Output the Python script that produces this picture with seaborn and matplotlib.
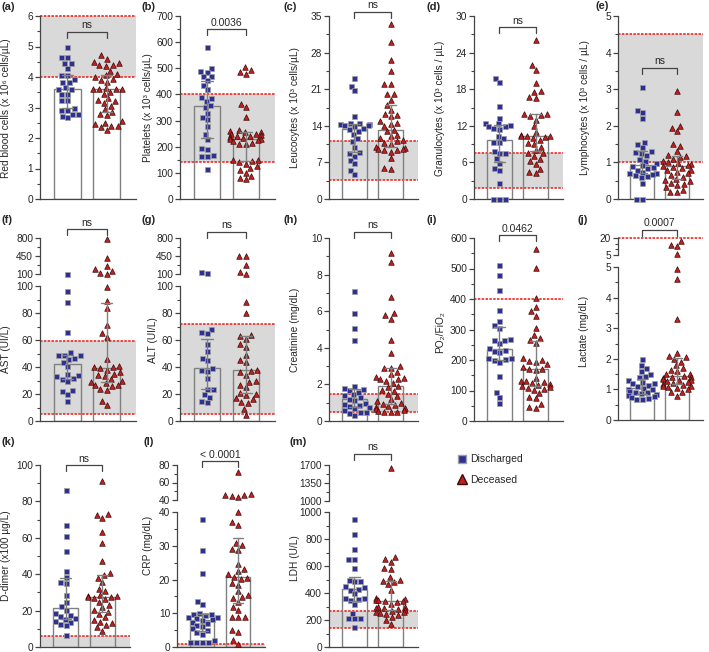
import numpy as np
import pandas as pd
import seaborn as sns
import matplotlib.pyplot as plt
from matplotlib.lines import Line2D
from matplotlib.ticker import FixedLocator
from matplotlib.transforms import blended_transform_factory

sns.set_style("ticks")
plt.rcParams["font.family"] = ["Liberation Sans", "DejaVu Sans"]

groups = ["Discharged", "Deceased"]

# values, one list per group and panel
rbc_dis = [4.97, 4.65, 4.65, 4.45, 4.45, 4.3, 4.05, 4.05, 3.93, 3.82, 3.82, 3.67, 3.6, 3.6, 3.45, 3.45, 3.25, 3.25, 2.98, 2.92, 2.92, 2.8, 2.8, 2.73, 2.68]
rbc_dec = [4.72, 4.6, 4.5, 4.45, 4.4, 4.38, 4.35, 4.2, 4.1, 4.05, 4.0, 3.95, 3.9, 3.85, 3.65, 3.6, 3.6, 3.6, 3.6, 3.5, 3.45, 3.3, 3.25, 3.2, 3.15, 3.05, 2.95, 2.85, 2.8, 2.75, 2.55, 2.5, 2.45, 2.4, 2.4, 2.35, 2.25]
plt_dis = [580, 500, 490, 485, 470, 470, 455, 435, 420, 390, 385, 375, 360, 350, 330, 315, 305, 280, 250, 230, 195, 190, 170, 165, 165, 115]
plt_dec = [505, 495, 485, 478, 365, 350, 312, 265, 262, 258, 255, 250, 248, 245, 242, 240, 236, 232, 230, 228, 225, 220, 215, 212, 210, 150, 148, 145, 140, 135, 125, 118, 110, 100, 88, 80, 75]
leu_dis = [23.2, 21.7, 20.8, 15.8, 14.6, 14.5, 14.4, 14.3, 14.2, 14.1, 13.9, 13.6, 13.3, 13.0, 12.5, 11.7, 11.0, 10.0, 9.0, 8.8, 8.3, 7.5, 6.8, 5.6, 4.8]
leu_dec = [33.5, 30.0, 26.5, 24.5, 22.0, 22.0, 20.0, 20.0, 19.0, 18.0, 17.0, 16.2, 16.0, 15.8, 15.0, 14.6, 14.4, 14.0, 13.2, 13.0, 12.2, 12.0, 11.6, 11.2, 11.0, 10.8, 10.5, 10.0, 9.8, 9.6, 9.5, 9.4, 9.3, 9.0, 7.8, 6.0, 5.8]
gra_dis = [19.8, 19.2, 15.3, 13.3, 12.5, 12.4, 12.2, 12.0, 11.9, 11.6, 11.5, 10.3, 10.0, 9.4, 9.3, 7.8, 7.6, 7.5, 6.7, 5.9, 5.1, 4.7, 2.7, 0, 0, 0]
gra_dec = [26.0, 22.0, 21.2, 19.0, 17.7, 17.5, 16.8, 16.5, 14.0, 13.9, 13.7, 13.6, 13.0, 12.0, 11.0, 10.5, 10.4, 10.3, 10.3, 10.2, 10.0, 9.6, 9.2, 9.0, 8.6, 8.0, 7.6, 7.5, 7.0, 6.6, 6.2, 5.8, 5.0, 4.5, 4.2]
lym_dis = [3.05, 2.42, 2.38, 2.2, 1.57, 1.5, 1.42, 1.3, 1.28, 1.25, 1.2, 1.1, 1.05, 0.98, 0.92, 0.9, 0.88, 0.85, 0.8, 0.75, 0.72, 0.7, 0.68, 0.65, 0.62, 0.6, 0.45, 0, 0]
lym_dec = [2.96, 2.38, 2.0, 1.95, 1.85, 1.5, 1.45, 1.3, 1.2, 1.18, 1.15, 1.1, 1.05, 1.0, 0.98, 0.95, 0.93, 0.9, 0.88, 0.85, 0.8, 0.78, 0.75, 0.7, 0.65, 0.6, 0.55, 0.52, 0.48, 0.45, 0.42, 0.38, 0.32, 0.25, 0.2, 0.18]
ast_dis = [105, 96, 88, 66, 51, 49, 49, 49, 47, 46, 44, 41, 35, 34, 33, 32, 31, 30, 23, 22, 20, 15]
ast_dec = [790, 410, 250, 205, 165, 120, 108, 99, 89, 84, 71, 65, 62, 46, 41, 40, 40, 39, 38, 36, 35, 34, 33, 31, 30, 29, 28, 27, 27, 26, 24, 23, 15, 12]
alt_dis = [130, 120, 68, 66, 65, 57, 52, 47, 45, 39, 38, 37, 32, 24, 24, 20, 18, 15, 14]
alt_dec = [450, 445, 270, 140, 105, 88, 80, 64, 63, 61, 57, 55, 49, 45, 44, 38, 37, 36, 34, 30, 29, 27, 25, 21, 20, 19, 17, 16, 14, 13, 9, 4.5]
cre_dis = [7.1, 5.9, 5.1, 4.4, 1.9, 1.8, 1.75, 1.7, 1.6, 1.45, 1.4, 1.3, 1.2, 1.15, 1.0, 0.95, 0.9, 0.8, 0.75, 0.7, 0.6, 0.5, 0.5, 0.45, 0.35]
cre_dec = [9.2, 8.7, 6.8, 5.9, 5.8, 5.6, 4.4, 3.7, 3.0, 2.9, 2.9, 2.7, 2.55, 2.4, 2.35, 2.3, 2.3, 2.2, 2.1, 1.9, 1.85, 1.7, 1.65, 1.5, 1.35, 1.2, 1.1, 1.0, 0.95, 0.88, 0.8, 0.75, 0.7, 0.65, 0.6, 0.55, 0.5, 0.5, 0.48]
pf_dis = [512, 480, 430, 365, 328, 315, 305, 268, 266, 264, 255, 240, 232, 230, 225, 208, 205, 202, 200, 195, 146, 96, 80, 58]
pf_dec = [565, 501, 403, 375, 360, 345, 304, 282, 271, 266, 255, 205, 200, 198, 195, 186, 178, 172, 170, 168, 140, 132, 130, 128, 124, 120, 118, 116, 113, 108, 106, 102, 91, 80, 74, 55, 47, 42]
lac_dis = [2.0, 1.8, 1.7, 1.6, 1.5, 1.45, 1.4, 1.3, 1.25, 1.2, 1.2, 1.15, 1.1, 1.05, 1.0, 1.0, 0.95, 0.92, 0.9, 0.88, 0.85, 0.82, 0.8, 0.75, 0.72, 0.7, 0.7]
lac_dec = [17.6, 14.0, 13.0, 5.6, 4.92, 4.6, 3.3, 2.2, 2.1, 2.05, 2.0, 1.9, 1.8, 1.7, 1.65, 1.6, 1.5, 1.5, 1.45, 1.42, 1.4, 1.38, 1.35, 1.32, 1.3, 1.28, 1.25, 1.22, 1.18, 1.15, 1.12, 1.1, 1.08, 1.05, 1.0, 0.92, 0.9, 0.8]
ddi_dis = [86, 67, 61, 52.5, 42, 38.5, 35.5, 35, 28.5, 24.5, 22.5, 20.5, 18.5, 17.5, 17, 16, 15.5, 14.5, 14, 12.5, 12, 6.5]
ddi_dec = [91, 73, 72.5, 71, 63, 57, 47, 40.5, 39.5, 38, 35.5, 32, 30.5, 28.5, 28, 28, 27.5, 27.5, 27, 26.5, 25, 23, 22, 20.5, 19.5, 18, 16.5, 15, 14, 13, 12, 11, 9]
crp_dis = [38, 28.8, 22, 13.6, 12.8, 10, 9.9, 9.8, 9.5, 9.0, 8.8, 8.5, 8.2, 8.0, 7.5, 7.0, 6.5, 6.2, 5.5, 5.0, 4.5, 4.0, 2.0, 1.5, 1.5, 1.5, 1.5]
crp_dec = [71.5, 47, 46, 45.5, 44.5, 44, 40, 37, 36.2, 30.8, 30.3, 29, 28.8, 24.5, 23, 22.5, 21.5, 20.8, 20.5, 20.2, 19, 18.5, 16.6, 15.4, 14.9, 14.4, 13.4, 12, 10.9, 9, 8.9, 8.8, 5, 4.5, 2, 1]
ldh_dis = [948, 836, 725, 653, 650, 583, 495, 490, 488, 450, 445, 430, 425, 398, 365, 360, 352, 345, 318, 250, 218, 215, 212, 150]
ldh_dec = [1650, 670, 650, 633, 583, 578, 520, 500, 490, 484, 464, 422, 360, 355, 350, 345, 342, 340, 335, 320, 300, 298, 292, 290, 285, 275, 270, 262, 258, 255, 248, 235, 222, 200, 168]

W, H = 709, 652
GREY = "#808080"
SPINE = "#444444"
RED = "#ee2a24"
BAND = "#d9d9d9"
SQ_FACE, SQ_EDGE = "#2e3192", "#a0a0a0"
TR_FACE, TR_EDGE = "#c1201f", "#3a0a0a"

def rng(a, b, s):
    return list(np.round(np.arange(a, b + s / 2, s), 4))

panels = [
    dict(k="a", dis=rbc_dis, dec=rbc_dec, lab="Red blood cells (x 10\u2076 cells/\u00b5L)", x0=40, x1=136, top=16, bot=199,
         ylim=(0, 6), major=rng(0, 6, 1), minor=rng(0.5, 5.5, 1), band=(4, 6), p="ns", by=32, let=(2, 7), yl=(6, 108)),
    dict(k="b", dis=plt_dis, dec=plt_dec, lab="Platelets (x 10\u00b3 cells/\u00b5L)", x0=180, x1=275, top=16, bot=199,
         ylim=(0, 700), major=rng(0, 700, 100), minor=rng(50, 650, 100), band=(140, 400), p="0.0036", by=29, let=(142, 7), yl=(148, 108)),
    dict(k="c", dis=leu_dis, dec=leu_dec, lab="Leucocytes (x 10\u00b3 cells/\u00b5L)", x0=329, x1=418, top=16, bot=199,
         ylim=(0, 35), major=rng(0, 35, 7), minor=rng(3.5, 31.5, 7), band=(3.7, 11), p="ns", by=12, let=(283, 7), yl=(295, 108)),
    dict(k="d", dis=gra_dis, dec=gra_dec, lab="Granulocytes (x 10\u00b3 cells / \u00b5L)", x0=474, x1=563, top=16, bot=199,
         ylim=(0, 30), major=rng(0, 30, 6), minor=rng(3, 27, 6), band=(1.8, 7.5), p="ns", by=27, let=(427, 7), yl=(440, 108)),
    dict(k="e", dis=lym_dis, dec=lym_dec, lab="Lymphocytes (x 10\u00b3 cells / \u00b5L)", x0=618, x1=703, top=16, bot=199,
         ylim=(0, 5), major=rng(0, 5, 1), minor=rng(0.5, 4.5, 1), band=(1.0, 4.5), p="ns", by=68, let=(596, 6), yl=(585, 108)),
    dict(k="f", dis=ast_dis, dec=ast_dec, lab="AST (UI/L)", x0=40, x1=136, top=286, bot=421,
         ylim=(0, 100), major=rng(0, 100, 20), minor=rng(10, 90, 20), band=(5, 59), p="ns", by=229, let=(2, 220), yl=(6, 349),
         brk=dict(cut=100, ylim=(100, 800), top=238, bot=274, major=[100, 450, 800], minor=[275, 625])),
    dict(k="g", dis=alt_dis, dec=alt_dec, lab="ALT (UI/L)", x0=180, x1=275, top=286, bot=421,
         ylim=(0, 100), major=rng(0, 100, 20), minor=rng(10, 90, 20), band=(5, 72), p="ns", by=232, let=(142, 220), yl=(153, 340),
         brk=dict(cut=100, ylim=(100, 800), top=238, bot=274, major=[100, 450, 800], minor=[275, 625])),
    dict(k="h", dis=cre_dis, dec=cre_dec, lab="Creatinine (mg/dL)", x0=329, x1=418, top=238, bot=421,
         ylim=(0, 10), major=rng(0, 10, 2), minor=rng(1, 9, 2), band=(0.5, 1.5), p="ns", by=232, let=(283, 220), yl=(295, 330)),
    dict(k="i", dis=pf_dis, dec=pf_dec, lab="PO\u2082/FiO\u2082", x0=474, x1=563, top=238, bot=421,
         ylim=(0, 600), major=rng(0, 600, 100), minor=rng(50, 550, 100), line=400, p="0.0462", by=235, let=(427, 220), yl=(440, 332)),
    dict(k="j", dis=lac_dis, dec=lac_dec, lab="Lactate (mg/dL)", x0=618, x1=703, top=267, bot=420,
         ylim=(0, 5), major=rng(0, 5, 1), minor=rng(0.5, 4.5, 1), p="0.0007", by=230, let=(578, 220), yl=(584, 331),
         brk=dict(cut=5, ylim=(5, 20), top=238, bot=255, major=[5, 20], minor=[10, 15], line=20)),
    dict(k="k", dis=ddi_dis, dec=ddi_dec, lab="D-dimer (x100 \u00b5g/L)", x0=40, x1=130, top=465, bot=647,
         ylim=(0, 100), major=rng(0, 100, 20), minor=rng(10, 90, 20), band=(0, 6), p="ns", by=465, let=(2, 442), yl=(6, 556)),
    dict(k="l", dis=crp_dis, dec=crp_dec, lab="CRP (mg/dL)", x0=177, x1=265, top=512, bot=647,
         ylim=(0, 40), major=rng(0, 40, 10), minor=rng(5, 35, 10), band=(0, 0.8), p="< 0.0001", by=461, let=(143, 442), yl=(148, 545),
         brk=dict(cut=40, ylim=(40, 80), top=465, bot=500, major=[40, 60, 80], minor=[50, 70])),
    dict(k="m", dis=ldh_dis, dec=ldh_dec, lab="LDH (U/L)", x0=329, x1=418, top=512, bot=647,
         ylim=(0, 1000), major=rng(0, 1000, 200), minor=rng(100, 900, 200), band=(140, 270), p="ns", by=454, let=(290, 442), yl=(295, 558),
         brk=dict(cut=1000, ylim=(1000, 1700), top=465, bot=501, major=[1000, 1350, 1700], minor=[1175, 1525])),
]

fig = plt.figure(figsize=(W / 100, H / 100), dpi=100)


def px_axes(x0, x1, top, bot):
    return fig.add_axes([x0 / W, 1 - bot / H, (x1 - x0) / W, (bot - top) / H])


def style(ax, ylim, major, minor, bottom=True):
    ax.set_xlim(-0.7, 1.75)
    ax.set_ylim(*ylim)
    ax.yaxis.set_major_locator(FixedLocator(major))
    ax.yaxis.set_minor_locator(FixedLocator(minor))
    ax.set_xticks([])
    ax.set_xlabel("")
    ax.set_ylabel("")
    ax.set_facecolor("none")
    ax.spines["top"].set_visible(False)
    ax.spines["right"].set_visible(False)
    ax.spines["bottom"].set_visible(bottom)
    for s in ["left", "bottom"]:
        ax.spines[s].set_color(SPINE)
        ax.spines[s].set_linewidth(0.9)
    ax.tick_params(axis="y", which="major", length=3.5, width=0.9, color=SPINE, labelsize=7.3, pad=1.5)
    ax.tick_params(axis="y", which="minor", length=2, width=0.8, color=SPINE)


def points(ax, df):
    for g, mk, fc, ec, sz in [("Discharged", "s", SQ_FACE, SQ_EDGE, 3.6), ("Deceased", "^", TR_FACE, TR_EDGE, 4.0)]:
        sub = df[df["group"] == g]
        if len(sub):
            sns.swarmplot(data=sub, x="group", y="value", order=groups, marker=mk, color=fc,
                          edgecolor=ec, linewidth=0.5, size=sz, ax=ax, zorder=3, clip_on=False)


for p in panels:
    df = pd.DataFrame({"group": ["Discharged"] * len(p["dis"]) + ["Deceased"] * len(p["dec"]),
                       "value": list(p["dis"]) + list(p["dec"])})
    brk = p.get("brk")
    ax = px_axes(p["x0"], p["x1"], p["top"], p["bot"])

    if "band" in p:
        lo, hi = p["band"]
        ax.axhspan(lo, hi, color=BAND, lw=0, zorder=0)
        for v in (lo, hi):
            if v > 0:
                ax.axhline(v, color=RED, lw=1.2, ls=(0, (1.5, 0.8)), zorder=1, clip_on=False)
    if "line" in p:
        ax.axhline(p["line"], color=RED, lw=1.2, ls=(0, (1.5, 0.8)), zorder=1)

    sns.barplot(data=df, x="group", y="value", order=groups, estimator="median", errorbar=("pi", 50),
                capsize=0.3, fill=False, color=GREY, linewidth=1.0, width=0.68,
                err_kws={"color": GREY, "linewidth": 1.0, "zorder": 4}, ax=ax)
    lower = df if brk is None else df[df["value"] <= brk["cut"]]
    points(ax, lower)
    style(ax, p["ylim"], p["major"], p["minor"])

    top_ax = ax
    if brk is not None:
        up = px_axes(p["x0"], p["x1"], brk["top"], brk["bot"])
        points(up, df[df["value"] > brk["cut"]])
        if "line" in brk:
            up.axhline(brk["line"], color=RED, lw=1.2, ls=(0, (1.5, 0.8)), zorder=1, clip_on=False)
        style(up, brk["ylim"], brk["major"], brk["minor"], bottom=False)
        top_ax = up

    # significance bracket between the two bar centres
    tr = blended_transform_factory(top_ax.transData, fig.transFigure)
    y = 1 - p["by"] / H
    d = 6 / H
    top_ax.plot([0, 0, 1, 1], [y - d, y, y, y - d], transform=tr, color=SPINE, lw=0.9, clip_on=False)
    top_ax.text(0.5, y + 1.5 / H, p["p"], transform=tr, ha="center", va="bottom", fontsize=7.5)

    fig.text(p["yl"][0] / W, 1 - p["yl"][1] / H, p["lab"], rotation=90, ha="center", va="center", fontsize=7.3)
    fig.text(p["let"][0] / W, 1 - p["let"][1] / H, "(" + p["k"] + ")", ha="left", va="center",
             fontsize=8, fontweight="bold")

handles = [Line2D([], [], marker="s", ls="", markerfacecolor=SQ_FACE, markeredgecolor=SQ_EDGE, markersize=6, label="Discharged"),
           Line2D([], [], marker="^", ls="", markerfacecolor=TR_FACE, markeredgecolor=TR_EDGE, markersize=6.5, label="Deceased")]
fig.legend(handles=handles, loc="upper left", bbox_to_anchor=(452 / W, 1 - 449 / H), frameon=False,
           fontsize=7.5, handletextpad=0.2, labelspacing=1.0, handlelength=1.0, borderpad=0)

fig.savefig("out.png", dpi=100)
